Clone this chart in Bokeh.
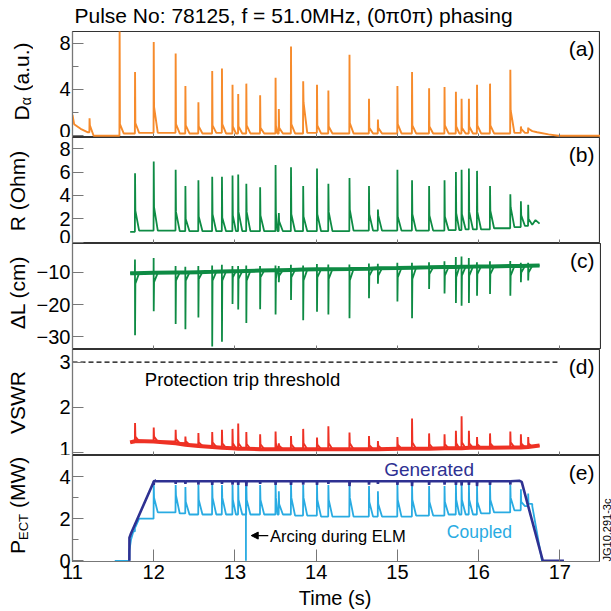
import math
from bokeh.plotting import figure
from bokeh.layouts import column, row
from bokeh.models import Range1d, Label, Arrow, NormalHead, FixedTicker
from bokeh.embed import file_html
from bokeh.resources import INLINE

FONT = "Liberation Sans"

# ---------------- data ----------------
title_text = "Pulse No: 78125, f = 51.0MHz, (0\u03c00\u03c0) phasing"
x_ticks = [11, 12, 13, 14, 15, 16, 17]

# ELM times (s)
elm_t = [11.21, 11.58, 11.77, 12.00, 12.27, 12.39, 12.55, 12.72, 12.84, 12.97,
         13.04, 13.14, 13.31, 13.50, 13.54, 13.69, 13.84, 14.01, 14.15, 14.41,
         14.65, 14.76, 15.00, 15.18, 15.39, 15.58, 15.72, 15.79, 15.88, 15.98,
         16.14, 16.39, 16.52, 16.61]

# (a) D-alpha
da_start_t = [11.00, 11.02, 11.10, 11.19]
da_start_v = [1.8, 1.0, 0.6, 0.3]
da_peak = [1.5, 9.5, 5.5, 8.1, 7.1, 4.3, 2.9, 5.6, 5.8, 4.4, 3.6, 4.5, 3.5, 5.0, 2.3, 7.7, 4.7,
           4.4, 3.9, 7.0, 3.2, 1.4, 4.3, 5.5, 4.1, 4.2, 3.8, 3.2, 3.2, 4.4, 4.5, 5.7, 0.8, 0.7]
da_after = [0.9, 1.0, 1.1, 2.5, 1.0, 0.9, 0.8, 0.9, 1.0, 0.8, 0.8, 0.9, 0.7, 0.9, 0.7, 1.0, 2.9,
            0.9, 0.8, 1.1, 0.7, 0.7, 1.0, 0.9, 0.8, 0.9, 0.8, 0.7, 0.8, 0.9, 0.9, 2.2, 0.6, 0.6]
da_base = [0.0, 0.2, 0.25, 0.25, 0.2, 0.2, 0.2, 0.25, 0.2, 0.2, 0.2, 0.2, 0.2, 0.2, 0.2, 0.2, 0.25,
           0.2, 0.2, 0.2, 0.2, 0.2, 0.2, 0.2, 0.2, 0.2, 0.2, 0.2, 0.2, 0.2, 0.2, 0.25, 0.25, 0.4]
da_end_t = [16.72, 16.86, 16.98, 17.50]
da_end_v = [0.3, 0.12, 0.0, 0.0]

# (b) R (Ohm)
r_start_t = [11.71]
r_start_v = [0.9]
r_peak = [None, None, 5.9, 6.9, 6.2, 4.8, 5.3, 5.6, 5.6, 5.7, 5.8, 5.0, 4.7, 6.6, 2.5, 6.4, 4.8,
          6.3, 5.0, 5.5, 4.8, 2.8, 6.2, 5.3, 4.8, 5.3, 6.0, 6.2, 6.3, 6.1, 4.8, 4.1, 3.5, 3.2]
r_after = [None, None, 2.7, 3.0, 2.6, 2.0, 2.2, 2.4, 2.1, 2.3, 2.6, 2.6, 2.3, 2.5, 1.8, 2.4, 2.2,
           2.4, 2.6, 2.8, 2.4, 2.3, 2.2, 2.4, 2.3, 2.2, 2.5, 2.4, 2.6, 2.6, 2.7, 3.0, 2.3, 2.0]
r_base = [None, None, 1.0, 1.0, 0.95, 0.95, 0.95, 0.95, 0.95, 0.95, 0.95, 0.95, 0.95, 0.95, 0.95,
          0.95, 0.95, 0.95, 0.95, 1.0, 1.0, 1.0, 1.0, 1.0, 1.0, 1.05, 1.05, 1.1, 1.1, 1.1, 1.2,
          1.3, 1.4, 1.5]
r_end_t = [16.70, 16.75]
r_end_v = [1.9, 1.6]

# (c) delta L (cm)
dl_start_t = [11.71]
dl_start_v = [-10.2]
dl_up = [None, None, -6.0, -5.5, -8.0, -8.2, -8.0, -7.8, -7.6, -8.0, -8.0, -7.8, -8.0, -7.8, -8.0,
         -7.6, -7.8, -7.4, -7.5, -7.5, -7.2, -7.3, -7.0, -7.0, -6.8, -6.5, -5.2, -5.0, -5.5, -6.8,
         -6.5, -6.4, -7.0, -7.0]
dl_low = [None, None, -29.5, -22.0, -26.0, -27.6, -24.0, -33.0, -31.5, -19.8, -21.5, -25.7, -21.4,
          -23.0, -13.0, -18.5, -24.8, -22.2, -23.0, -24.2, -18.0, -13.5, -19.0, -24.2, -15.1,
          -16.5, -19.5, -20.3, -19.5, -17.2, -16.7, -17.2, -13.0, -12.5]
dl_after = [None, None, -13.5, -13.0, -12.5, -12.5, -12.0, -12.5, -12.5, -11.5, -12.0, -12.5,
            -11.5, -12.0, -11.0, -11.5, -12.5, -11.5, -12.0, -12.5, -11.0, -11.0, -11.5, -12.0,
            -10.5, -11.0, -11.5, -11.0, -11.0, -10.5, -10.5, -11.0, -10.0, -10.0]
dl_base = [None, None, -10.2, -10.1, -10.0, -10.0, -9.9, -9.8, -9.7, -9.6, -9.6, -9.5, -9.4, -9.3,
           -9.3, -9.2, -9.1, -9.0, -9.0, -8.9, -8.8, -8.7, -8.6, -8.5, -8.4, -8.3, -8.3, -8.2,
           -8.2, -8.1, -8.1, -8.0, -8.0, -7.9]
dl_end_t = [16.75]
dl_end_v = [-7.8]

# (d) VSWR
vs_start_t = [11.71]
vs_start_v = [1.22]
vs_peak = [None, None, 1.65, 1.55, 1.50, 1.35, 1.43, 1.45, 1.50, 1.52, 1.64, 1.45, 1.40, 1.46,
           1.20, 1.36, 1.52, 1.33, 1.58, 1.44, 1.36, 1.25, 1.34, 1.75, 1.42, 1.40, 1.48, 1.80,
           1.48, 1.34, 1.42, 1.46, 1.40, 1.34]
vs_after = [None, None, 1.35, 1.35, 1.30, 1.25, 1.22, 1.22, 1.20, 1.20, 1.20, 1.18, 1.18, 1.20,
            1.15, 1.18, 1.20, 1.17, 1.20, 1.20, 1.16, 1.15, 1.17, 1.22, 1.18, 1.18, 1.20, 1.22,
            1.20, 1.18, 1.20, 1.22, 1.20, 1.20]
vs_base = [None, None, 1.25, 1.24, 1.20, 1.17, 1.14, 1.12, 1.10, 1.09, 1.08, 1.08, 1.07, 1.07,
           1.07, 1.07, 1.07, 1.07, 1.07, 1.07, 1.07, 1.07, 1.08, 1.08, 1.08, 1.09, 1.09, 1.09,
           1.10, 1.10, 1.10, 1.11, 1.11, 1.12]
vs_end_t = [16.75]
vs_end_v = [1.15]
thr_t = [11.0, 16.97]
thr_v = [3.0, 3.0]

# (e) P_ECT (MW)
gen_start_t = [11.70, 11.701, 11.72, 12.00, 12.03]
gen_start_v = [0.0, 1.1, 1.3, 3.75, 3.8]
gen_level = 3.78
gen_dip = [None, None, None, 3.60, 3.65, 3.65, 3.62, 3.60, 3.65, 3.62, 3.60, 3.55, 3.65, 3.60,
           None, 3.60, 3.62, 3.60, 3.65, 3.55, 3.62, 3.65, 3.60, 3.55, 3.60, 3.62, 3.60, 3.58,
           3.60, 3.55, 3.60, 3.62, None, None]
gen_end_t = [16.50, 16.53, 16.79, 17.05]
gen_end_v = [3.8, 3.75, 0.0, 0.0]

cp_start_t = [11.52, 11.70, 11.701, 11.72, 11.75]
cp_start_v = [0.0, 0.0, 0.5, 1.0, 1.4]
cp_peak = [None, None, 1.8, 3.7, 3.6, 3.5, 3.6, 3.65, 3.6, 3.6, 3.7, 3.7, 3.6, 3.6, 3.3, 3.6, 3.6,
           3.6, 3.6, 3.6, 3.55, 3.3, 3.6, 3.6, 3.55, 3.55, 3.6, 3.6, 3.6, 3.55, 3.6, 3.6, 3.4, 3.2]
cp_after = [None, None, 1.6, 3.0, 3.1, 2.8, 2.9, 3.0, 3.0, 2.9, 2.9, 2.9, 2.9, 3.0, 2.7, 3.0, 3.0,
            2.9, 2.9, 3.0, 2.8, 2.7, 2.9, 2.9, 2.8, 2.8, 2.9, 2.9, 2.9, 2.8, 2.9, 3.0, 2.8, 2.7]
cp_base = [None, None, 2.0, 2.3, 2.25, 2.2, 2.2, 2.2, 2.2, 2.2, 2.2, 2.2, 2.2, 2.2, 2.2, 2.15,
           2.15, 2.1, 2.1, 2.1, 2.1, 2.1, 2.1, 2.15, 2.15, 2.2, 2.2, 2.2, 2.2, 2.25, 2.3, 2.4, 2.6,
           2.7]
cp_end_t = [16.66, 16.78, 17.05]
cp_end_v = [2.6, 0.0, 0.0]
arc_t = [13.135, 13.135]
arc_v = [3.7, 0.0]

# ---------------- layout constants (page pixels, origin top-left) ----------------
W = 611
X0, X1 = 11.0, 17.5
LS = 33          # left strip width (axis names)
BL = 38          # panel left border (tick labels)
FW = 528         # frame width
BR = 1
RS = W - LS - BL - FW - BR   # right strip width
FH = 106
TITLE_H = 30
TOPB = 1
BOTB = 26
BOTTOM_H = 23
yr = [(-0.15, 9.0), (-0.1, 8.95), (-33.9, -1.0), (0.93, 3.28), (-0.03, 5.0)]
ROW_TOP = TITLE_H
ROW_H = TOPB + 5 * FH + BOTB
FRAME_LEFT = LS + BL

ORANGE = "#F68B2C"
GREEN = "#0E8B44"
RED = "#EE3124"
DBLUE = "#2E3192"
LBLUE = "#29ABE2"
AXC = "#777777"
ROT = math.pi / 2


def spikes(pre0, peak, after, base, up=None, dec=0.05):
    xs, ys = [], []
    prev = pre0
    n = len(elm_t)
    for i in range(n):
        if peak[i] is None:
            continue
        t = elm_t[i]
        nxt = elm_t[i + 1] if i + 1 < n else t + 0.2
        d = min(dec, 0.6 * (nxt - t))
        xs.append(t - 0.002)
        ys.append(prev)
        if up is not None and up[i] is not None:
            xs.append(t - 0.001)
            ys.append(up[i])
        xs += [t, t + 0.004, t + d]
        ys += [peak[i], after[i], base[i]]
        prev = base[i]
    return xs, ys


def add_label(p, x, y, text, size, color="black", align="left", angle=0.0):
    p.add_layout(Label(x=x, y=y, text=text, text_font=FONT, text_font_size=size,
                       text_color=color, text_align=align, text_baseline="middle",
                       angle=angle))


def strip(w, h):
    s = figure(x_range=Range1d(0, w), y_range=Range1d(0, h), width=w, height=h,
               min_border=0, min_border_left=0, min_border_right=0,
               min_border_top=0, min_border_bottom=0,
               x_axis_type=None, y_axis_type=None,
               output_backend="svg", toolbar_location=None, tools="")
    s.outline_line_color = None
    s.background_fill_color = "white"
    s.border_fill_color = "white"
    return s


def make_fig(k, top, bottom, yticks, yminor, overrides=None, last=False):
    p = figure(x_range=Range1d(X0, X1), y_range=Range1d(*yr[k]),
               frame_width=FW, frame_height=FH,
               min_border_left=BL, min_border_right=BR,
               min_border_top=top, min_border_bottom=bottom,
               output_backend="svg", toolbar_location=None, tools="")
    p.grid.visible = False
    p.background_fill_color = "white"
    p.border_fill_color = "white"
    p.outline_line_color = "#333333"
    p.outline_line_width = 1.2
    ya = p.yaxis[0]
    ya.ticker = FixedTicker(ticks=yticks, minor_ticks=yminor)
    ya.major_tick_in = 11
    ya.major_tick_out = 0
    ya.minor_tick_in = 6
    ya.minor_tick_out = 0
    ya.major_label_standoff = 2
    ya.major_label_text_font = FONT
    ya.major_label_text_font_size = "20px"
    ya.major_label_text_color = "black"
    ya.axis_line_color = AXC
    ya.major_tick_line_color = AXC
    ya.minor_tick_line_color = AXC
    if overrides:
        ya.major_label_overrides = overrides
    xa = p.xaxis[0]
    xa.ticker = FixedTicker(ticks=x_ticks, minor_ticks=[])
    xa.axis_line_color = AXC
    xa.major_tick_line_color = AXC
    xa.major_tick_out = 0
    if last:
        xa.major_tick_in = 12
        xa.major_label_standoff = 3
        xa.major_label_text_font = FONT
        xa.major_label_text_font_size = "20px"
        xa.major_label_text_color = "black"
    else:
        xa.major_tick_in = 4
        xa.major_label_standoff = 0
        xa.major_label_text_color = None
    return p


# ---------------- panel (a) ----------------
pa = make_fig(0, TOPB, 0, [0, 4, 8], [2, 6])
xs, ys = spikes(da_start_v[-1], da_peak, da_after, da_base)
pa.line(da_start_t + xs + da_end_t, da_start_v + ys + da_end_v, line_color=ORANGE, line_width=1.9)

# ---------------- panel (b) ----------------
pb = make_fig(1, 0, 0, [0, 2, 4, 6, 8], [])
xs, ys = spikes(r_start_v[-1], r_peak, r_after, r_base)
pb.line(r_start_t + xs + r_end_t, r_start_v + ys + r_end_v, line_color=GREEN, line_width=1.8)

# ---------------- panel (c) ----------------
pc = make_fig(2, 0, 0, [-30, -20, -10], [],
              overrides={-30: "\u221230", -20: "\u221220", -10: "\u221210"})
xs, ys = spikes(dl_start_v[-1], dl_low, dl_after, dl_base, up=dl_up)
pc.line(dl_start_t + xs + dl_end_t, dl_start_v + ys + dl_end_v, line_color=GREEN, line_width=1.8)
pc.line(dl_start_t + elm_t[2:] + dl_end_t, dl_start_v + dl_base[2:] + dl_end_v,
        line_color=GREEN, line_width=4)

# ---------------- panel (d) ----------------
pd_ = make_fig(3, 0, 0, [1, 2, 3], [])
pd_.line(thr_t, thr_v, line_color="black", line_width=1.4, line_dash="5 3")
xs, ys = spikes(vs_start_v[-1], vs_peak, vs_after, vs_base)
pd_.line(vs_start_t + xs + vs_end_t, vs_start_v + ys + vs_end_v, line_color=RED, line_width=1.9)
pd_.line(vs_start_t + elm_t[2:] + vs_end_t, vs_start_v + vs_base[2:] + vs_end_v,
         line_color=RED, line_width=4)
add_label(pd_, 11.89, 2.61, "Protection trip threshold", "18.5px")

# ---------------- panel (e) ----------------
pe = make_fig(4, 0, BOTB, [0, 2, 4], [1, 3], last=True)
xs, ys = spikes(cp_start_v[-1], cp_peak, cp_after, cp_base)
pe.line(cp_start_t + xs + cp_end_t, cp_start_v + ys + cp_end_v, line_color=LBLUE, line_width=1.8)
pe.line(arc_t, arc_v, line_color=LBLUE, line_width=1.8)
gx, gy = list(gen_start_t), list(gen_start_v)
for i, t in enumerate(elm_t):
    if gen_dip[i] is None:
        continue
    gx += [t - 0.002, t, t + 0.004]
    gy += [gen_level, gen_dip[i], gen_level]
gx += gen_end_t
gy += gen_end_v
pe.line(gx, gy, line_color=DBLUE, line_width=2.6)
add_label(pe, 15.39, 4.35, "Generated", "19px", color=DBLUE, align="center")
add_label(pe, 16.01, 1.35, "Coupled", "17.5px", color=LBLUE, align="center")
pe.add_layout(Arrow(end=NormalHead(size=7, line_color="black", fill_color="black", line_width=1),
                    x_start=13.41, y_start=1.2, x_end=13.20, y_end=1.2,
                    line_color="black", line_width=1.2))
add_label(pe, 13.43, 1.2, "Arcing during ELM", "16.5px")

figs = [pa, pb, pc, pd_, pe]
xpx = (X1 - X0) / FW
for k, (p, letter) in enumerate(zip(figs, ["(a)", "(b)", "(c)", "(d)", "(e)"])):
    lo, hi = yr[k]
    add_label(p, X1 - 6 * xpx, hi - 16.8 * (hi - lo) / FH, letter, "21px", align="right")

# ---------------- text strips ----------------
title_strip = strip(W, TITLE_H)
add_label(title_strip, 74, TITLE_H - 15.3, title_text, "21px")

left_strip = strip(LS, ROW_H)


def ly(py):  # page y -> left/right strip data y
    return ROW_TOP + ROW_H - py


add_label(left_strip, 21.0, ly(120), "D", "21px", angle=ROT)
add_label(left_strip, 25.5, ly(104.8), "\u03b1", "14px", angle=ROT)
add_label(left_strip, 21.0, ly(91), "(a.u.)", "21px", angle=ROT)
add_label(left_strip, 16.5, ly(190.5), "R (Ohm)", "21px", align="center", angle=ROT)
add_label(left_strip, 16.5, ly(292), "\u0394L (cm)", "21px", align="center", angle=ROT)
add_label(left_strip, 16.5, ly(402), "VSWR", "21px", align="center", angle=ROT)
add_label(left_strip, 16.5, ly(553.5), "P", "21px", angle=ROT)
add_label(left_strip, 23.0, ly(539.5), "ECT", "13px", angle=ROT)
add_label(left_strip, 16.5, ly(507.5), "(MW)", "21px", angle=ROT)

right_strip = strip(RS, ROW_H)
add_label(right_strip, RS / 2.0, ly(561), "JG10.291-3c", "11px", angle=ROT)

bottom_strip = strip(W, BOTTOM_H)
add_label(bottom_strip, FRAME_LEFT + (14.244 - X0) / xpx, (ROW_TOP + ROW_H + BOTTOM_H) - 597.5,
          "Time (s)", "20px", align="center")

layout = column(title_strip,
                row(left_strip, column(*figs, spacing=0), right_strip, spacing=0),
                bottom_strip, spacing=0)
open("out.html", "w").write(file_html(layout, INLINE))
